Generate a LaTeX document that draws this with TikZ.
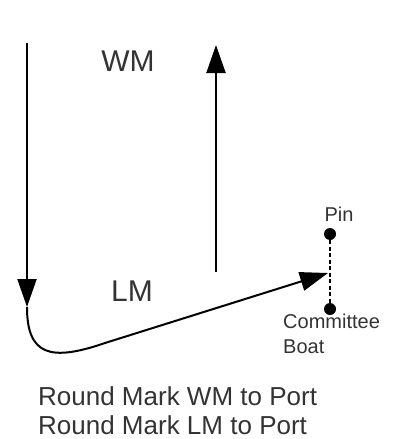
\documentclass[tikz,border=0pt]{standalone}
\usepackage{fontspec}
\setmainfont{Liberation Sans}
\usetikzlibrary{arrows.meta, calc}

\begin{document}
\begin{tikzpicture}[
  x=1pt, y=-1pt,
  every text node part/.style={align=left},
  course/.style={draw=black, line width=2pt},
  leg/.style={course, -{Triangle[length=28pt,width=19pt]}},
  markdot/.style={fill=black,circle,inner sep=0pt,minimum size=12pt},
  marklbl/.style={text=black!80, font=\fontsize{30}{32}\selectfont},
  smalllbl/.style={text=black!80, font=\fontsize{20}{25}\selectfont, inner sep=0pt},
  note/.style={text=black!80, font=\fontsize{26}{29}\selectfont, inner sep=0pt}
]
%general params
\def\lx{27}  %left leg
\def\rx{216} %right leg

\useasboundingbox (0,0) rectangle (395,439);

% marks
  \node[marklbl] (WM) at (128,61.5) {WM};
  \node[marklbl] (LM) at (132,291) {LM};

% start line
  \node[markdot] (pin)  at (330,234) {};
  \node[markdot] (boat) at (330,309) {};
  \node[smalllbl, anchor=base] (pinlbl) at (339,221) {Pin};
  \node[smalllbl, anchor=north west] (boatlbl) at (283,314) {Committee\\Boat};
  \draw[line width=2pt, dash pattern=on 4pt off 2.5pt] (pin) -- (boat);

% legs
  \coordinate (start) at (\lx,43);
  \coordinate (turn)  at (\lx,307);
  \coordinate (gate)  at (328,273);
  \coordinate (wmfoot) at (\rx,272);
  \coordinate (wmhead) at (\rx,45);

  \draw[leg] (start) -- (turn);
  \draw[leg] (turn) .. controls (\lx,355) and (50,362) .. (105,343) -- (gate);
  \draw[leg] (wmfoot) -- (wmhead);

% instructions
  \node[note, anchor=north west] (rounding) at (38,386) {Round Mark WM to Port\\Round Mark LM to Port};

\end{tikzpicture}
\end{document}
